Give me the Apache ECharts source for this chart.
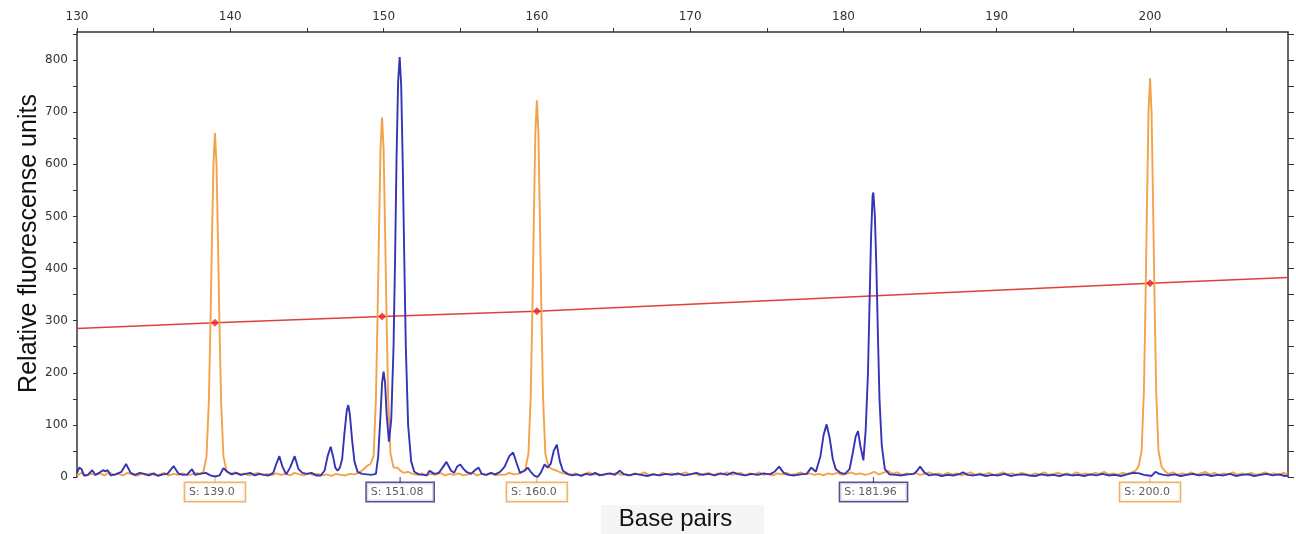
<!DOCTYPE html>
<html><head><meta charset="utf-8">
<script src="https://cdn.jsdelivr.net/npm/echarts@6/dist/echarts.min.js"></script>
<style>html,body{margin:0;padding:0;background:#fff}#c{width:1296px;height:534px}</style>
</head><body><div id="c"></div>
<script>
const xTicks = [130,135,140,145,150,155,160,165,170,175,180,185,190,195,200,205];
const xLabels = [130,140,150,160,170,180,190,200];
const yTicks = [0,50,100,150,200,250,300,350,400,450,500,550,600,650,700,750,800,850];
const yLabels = [0,100,200,300,400,500,600,700,800];

const orangeTrace = [
[130.0,3],[130.3,8],[130.6,2],[130.9,6],[131.2,4],[131.5,7],[131.8,3],[132.1,9],[132.4,4],[132.7,6],[133.0,3],[133.3,8],[133.6,5],[133.9,2],[134.2,6],[134.5,4],[134.8,7],[135.1,3],[135.4,5],[135.7,8],[136.0,3],[136.3,6],[136.6,4],[136.9,7],[137.2,3],[137.5,5],[137.8,8],[138.05,6],[138.25,10],
[138.45,40],[138.6,145],[138.7,284],[138.8,449],[138.9,600],[139.0,660],[139.1,600],[139.2,449],[139.3,284],[139.4,145],[139.55,40],[139.75,12],
[140.0,6],[140.3,9],[140.6,4],[140.9,7],[141.2,3],[141.5,6],[141.8,8],[142.1,4],[142.4,6],[142.7,3],[143.0,7],[143.3,4],[143.6,6],[143.9,3],[144.2,8],[144.5,5],[144.8,3],[145.1,7],[145.4,4],[145.7,6],[146.0,3],[146.3,5],[146.6,2],[146.9,6],[147.2,4],[147.5,3],[147.8,6],[148.1,5],[148.4,8],[148.7,15],[148.95,22],[149.15,25],
[149.35,40],[149.5,150],[149.6,300],[149.7,470],[149.8,630],[149.9,690],[150.0,630],[150.1,470],[150.2,300],[150.3,150],[150.45,45],[150.65,18],
[150.9,18],[151.1,12],[151.3,8],[151.6,10],[151.9,6],[152.2,4],[152.5,7],[152.8,3],[153.1,6],[153.4,4],[153.7,8],[154.0,3],[154.3,6],[154.6,4],[154.9,7],[155.2,3],[155.5,5],[155.8,8],[156.1,3],[156.4,6],[156.7,4],[157.0,7],[157.3,3],[157.6,5],[157.9,4],[158.2,8],[158.5,5],[158.8,6],[159.05,10],[159.25,15],
[159.45,45],[159.6,155],[159.7,310],[159.8,490],[159.9,660],[160.0,723],[160.1,660],[160.2,490],[160.3,310],[160.4,155],[160.55,45],[160.75,20],
[161.0,15],[161.3,12],[161.6,8],[161.9,6],[162.2,4],[162.5,7],[162.8,3],[163.1,6],[163.4,9],[163.7,4],[164.0,6],[164.3,3],[164.6,7],[164.9,5],[165.2,8],[165.5,4],[165.8,6],[166.1,3],[166.4,7],[166.7,5],[167.0,9],[167.3,4],[167.6,6],[167.9,3],[168.2,8],[168.5,5],[168.8,7],[169.1,4],[169.4,6],[169.7,9],[170.0,5],[170.3,7],[170.6,3],[170.9,6],[171.2,8],[171.5,4],[171.8,7],[172.1,5],[172.4,9],[172.7,4],[173.0,6],[173.3,8],[173.6,3],[173.9,7],[174.2,5],[174.5,9],[174.8,4],[175.1,6],[175.4,3],[175.7,7],[176.0,5],[176.3,8],[176.6,4],[176.9,6],[177.2,9],[177.5,5],[177.8,7],[178.1,4],[178.4,6],[178.7,3],[179.0,7],[179.3,5],[179.6,8],[179.9,4],[180.2,6],[180.5,9],[180.8,5],[181.1,7],[181.4,4],[181.7,6],[182.0,10],[182.3,5],[182.6,8],[182.9,12],[183.2,6],[183.5,9],[183.8,4],[184.1,7],[184.4,5],[184.7,8],[185.0,4],[185.3,6],[185.6,9],[185.9,5],[186.2,7],[186.5,4],[186.8,8],[187.1,5],[187.4,7],[187.7,3],[188.0,6],[188.3,9],[188.6,4],[188.9,7],[189.2,5],[189.5,8],[189.8,4],[190.1,6],[190.4,9],[190.7,5],[191.0,7],[191.3,4],[191.6,8],[191.9,6],[192.2,3],[192.5,7],[192.8,5],[193.1,9],[193.4,4],[193.7,6],[194.0,8],[194.3,5],[194.6,7],[194.9,4],[195.2,9],[195.5,5],[195.8,7],[196.1,4],[196.4,8],[196.7,6],[197.0,10],[197.3,5],[197.6,7],[197.9,4],[198.2,8],[198.5,6],[198.8,9],[199.05,12],[199.25,20],
[199.45,50],[199.6,165],[199.7,330],[199.8,520],[199.9,700],[200.0,765],[200.1,700],[200.2,520],[200.3,330],[200.4,165],[200.55,50],[200.75,20],
[200.95,12],[201.2,6],[201.5,9],[201.8,4],[202.1,7],[202.4,5],[202.7,9],[203.0,4],[203.3,7],[203.6,10],[203.9,5],[204.2,8],[204.5,4],[204.8,7],[205.1,5],[205.4,9],[205.7,4],[206.0,7],[206.3,5],[206.6,8],[206.9,4],[207.2,6],[207.5,9],[207.8,5],[208.1,7],[208.4,4],[208.7,8],[209.0,5]
];

const blueTrace = [
[130.0,8],[130.15,18],[130.3,15],[130.45,3],[130.7,4],[131.0,13],[131.2,4],[131.5,9],[131.7,13],[131.85,11],[132.0,13],[132.2,3],[132.5,5],[132.9,10],[133.2,25],[133.5,8],[133.8,4],[134.1,8],[134.4,6],[134.7,3],[135.0,7],[135.3,2],[135.6,5],[135.9,6],[136.3,21],[136.6,7],[136.9,4],[137.2,5],[137.5,15],[137.7,4],[138.0,6],[138.4,8],[138.7,3],[139.0,1],[139.3,3],[139.55,17],[139.8,10],[140.1,5],[140.4,8],[140.7,4],[141.0,6],[141.3,8],[141.6,3],[141.9,6],[142.2,4],[142.5,3],[142.8,8],[143.0,25],[143.2,40],[143.4,20],[143.65,5],[143.9,18],[144.2,40],[144.45,15],[144.7,8],[145.0,6],[145.3,8],[145.6,3],[145.9,3],[146.15,12],[146.35,40],[146.55,58],[146.7,40],[146.85,18],[147.0,12],[147.15,18],[147.3,35],[147.45,85],[147.6,128],[147.7,138],[147.8,120],[147.95,70],[148.1,30],[148.3,10],[148.6,6],[148.9,5],[149.2,4],[149.5,6],[149.65,40],[149.8,120],[149.9,180],[150.0,202],[150.1,180],[150.2,120],[150.35,68],[150.5,110],[150.65,250],[150.75,420],[150.85,620],[150.95,760],[151.05,806],[151.15,750],[151.25,600],[151.35,420],[151.45,250],[151.6,100],[151.8,30],[152.0,10],[152.3,5],[152.6,4],[152.8,3],[153.0,12],[153.3,6],[153.6,8],[153.85,18],[154.1,29],[154.4,12],[154.6,8],[154.8,20],[155.0,24],[155.2,16],[155.4,10],[155.7,6],[156.0,14],[156.2,18],[156.4,6],[156.7,4],[157.0,8],[157.3,5],[157.6,10],[157.9,20],[158.2,40],[158.45,47],[158.7,25],[158.9,8],[159.2,12],[159.4,18],[159.6,10],[159.85,2],[160.05,0],[160.25,8],[160.5,24],[160.7,18],[160.9,25],[161.1,50],[161.3,62],[161.5,30],[161.7,12],[162.0,6],
[162.3,3],[162.6,5],[162.9,2],[163.2,6],[163.5,4],[163.8,8],[164.1,3],[164.4,5],[164.8,7],[165.1,4],[165.4,12],[165.7,5],[166.0,3],[166.4,6],[166.8,4],[167.2,2],[167.6,5],[168.0,3],[168.4,6],[168.8,4],[169.2,7],[169.6,3],[170.0,5],[170.4,8],[170.8,4],[171.2,6],[171.6,3],[172.0,7],[172.4,4],[172.8,9],[173.2,5],[173.6,3],[174.0,6],[174.4,4],[174.8,7],[175.2,5],[175.5,10],[175.8,20],[176.1,8],[176.4,4],[176.8,3],[177.2,5],[177.6,6],[177.9,18],[178.2,10],[178.5,40],[178.7,80],[178.9,101],[179.1,75],[179.3,35],[179.5,15],[179.8,8],[180.1,6],[180.4,15],[180.6,45],[180.8,78],[180.95,88],[181.1,60],[181.3,32],[181.45,90],[181.6,200],[181.7,330],[181.8,460],[181.9,540],[181.95,546],[182.05,500],[182.15,400],[182.25,270],[182.35,150],[182.5,60],[182.7,15],[183.0,5],
[183.4,4],[183.8,3],[184.2,5],[184.6,6],[184.8,12],[185.0,20],[185.3,8],[185.6,3],[186.0,5],[186.4,2],[186.8,4],[187.2,3],[187.6,6],[187.8,9],[188.1,4],[188.5,3],[188.9,5],[189.3,2],[189.7,4],[190.1,3],[190.5,6],[190.9,2],[191.3,4],[191.7,5],[192.1,3],[192.5,2],[192.9,5],[193.3,3],[193.7,4],[194.1,2],[194.5,5],[194.9,3],[195.3,4],[195.7,2],[196.1,5],[196.5,3],[196.9,6],[197.3,3],[197.7,4],[198.1,2],[198.5,5],[198.9,8],[199.3,7],[199.6,4],[199.9,3],[200.1,2],[200.35,10],[200.6,6],[200.9,4],[201.2,3],[201.6,5],[202.0,2],[202.4,4],[202.8,6],[203.2,3],[203.6,5],[204.0,2],[204.4,4],[204.8,3],[205.2,6],[205.6,2],[206.0,4],[206.4,5],[206.8,2],[207.2,4],[207.6,6],[208.0,3],[208.4,5],[208.8,2],[209.0,3]
];

const calibrationLine = [[130,285],[139,296],[149.9,308],[160,318],[200,372],[209,383]];
const calibrationPoints = [[139,296],[149.9,308],[160,318],[200,372]];
const sizeCalls = [139.0, 160.0, 200.0];
const sizeCallLabels = ['S: 139.0', 'S: 160.0', 'S: 200.0'];
const alleleCalls = [151.08, 181.96];
const alleleCallLabels = ['S: 151.08', 'S: 181.96'];

const FONT = 'DejaVu Sans';
const axisCol = '#333';

function callSeries(xs, texts, col) {
  return {
    type: 'scatter', clip: false, z: 5,
    data: xs.map(x => [x, 0]),
    symbol: 'rect', symbolSize: [1.2, 6], symbolOffset: [0, 3],
    itemStyle: { color: col },
    label: {
      show: true, position: 'bottom', distance: 0,
      formatter: p => texts[p.dataIndex],
      fontFamily: FONT, fontSize: 11, color: '#333',
      backgroundColor: '#fff', borderColor: col, borderWidth: 1.5,
      padding: [4, 10, 3, 4]
    },
    emphasis: { disabled: true }
  };
}

const chart = echarts.init(document.getElementById('c'), null, { renderer: 'canvas' });
chart.setOption({
  animation: false,
  backgroundColor: '#fff',
  grid: { left: 77, right: 8, top: 32, bottom: 57, containLabel: false, outerBoundsMode: 'none' },
  xAxis: [
    {
      type: 'value', position: 'top', min: 130, max: 209,
      axisLine: { show: true, onZero: false, lineStyle: { color: axisCol, width: 1.5 } },
      axisTick: { show: true, customValues: xTicks, length: 4, lineStyle: { color: axisCol, width: 1 } },
      axisLabel: { customValues: xLabels, margin: 9, fontFamily: FONT, fontSize: 12, color: '#333' },
      splitLine: { show: false }
    },
    {
      type: 'value', position: 'bottom', min: 130, max: 209,
      axisLine: { show: false, onZero: false }, axisTick: { show: false }, axisLabel: { show: false }, splitLine: { show: false },
      name: 'Base pairs', nameLocation: 'middle', nameGap: 28, nameMoveOverlap: false,
      nameTextStyle: { fontFamily: 'Liberation Sans', fontSize: 24, color: '#111', backgroundColor: '#f5f5f5', padding: [2, 32, 5, 18] }
    }
  ],
  yAxis: [
    {
      type: 'value', position: 'left', min: 0, max: 854,
      axisLine: { show: true, onZero: false, lineStyle: { color: axisCol, width: 1.5 } },
      axisTick: { show: true, customValues: yTicks, length: 4, lineStyle: { color: axisCol, width: 1 } },
      axisLabel: { customValues: yLabels, margin: 9, fontFamily: FONT, fontSize: 12, color: '#333' },
      splitLine: { show: false },
      name: 'Relative fluorescense units', nameLocation: 'middle', nameGap: 35, nameMoveOverlap: false,
      nameTextStyle: { fontFamily: 'Liberation Sans', fontSize: 25, color: '#111', padding: [0, 0, 0, 22] }
    },
    {
      type: 'value', position: 'right', min: 0, max: 854,
      axisLine: { show: true, onZero: false, lineStyle: { color: axisCol, width: 1.5 } },
      axisTick: { show: true, customValues: yTicks, length: 6, lineStyle: { color: axisCol, width: 1 } },
      axisLabel: { show: false }, splitLine: { show: false }
    }
  ],
  series: [
    { type: 'line', data: calibrationLine, symbol: 'none', lineStyle: { color: '#e0403a', width: 1.5 }, z: 2, silent: true },
    { type: 'line', data: orangeTrace, symbol: 'none', lineStyle: { color: '#f4a24a', width: 1.9 }, z: 3, silent: true },
    { type: 'line', data: blueTrace, symbol: 'none', lineStyle: { color: '#3434b4', width: 1.9 }, z: 4, silent: true },
    { type: 'scatter', data: calibrationPoints, symbol: 'diamond', symbolSize: 8, itemStyle: { color: '#e8202a' }, z: 6, silent: true },
    callSeries(sizeCalls, sizeCallLabels, '#e8a04a'),
    callSeries(alleleCalls, alleleCallLabels, '#2b2b70')
  ]
});
</script>
</body></html>
